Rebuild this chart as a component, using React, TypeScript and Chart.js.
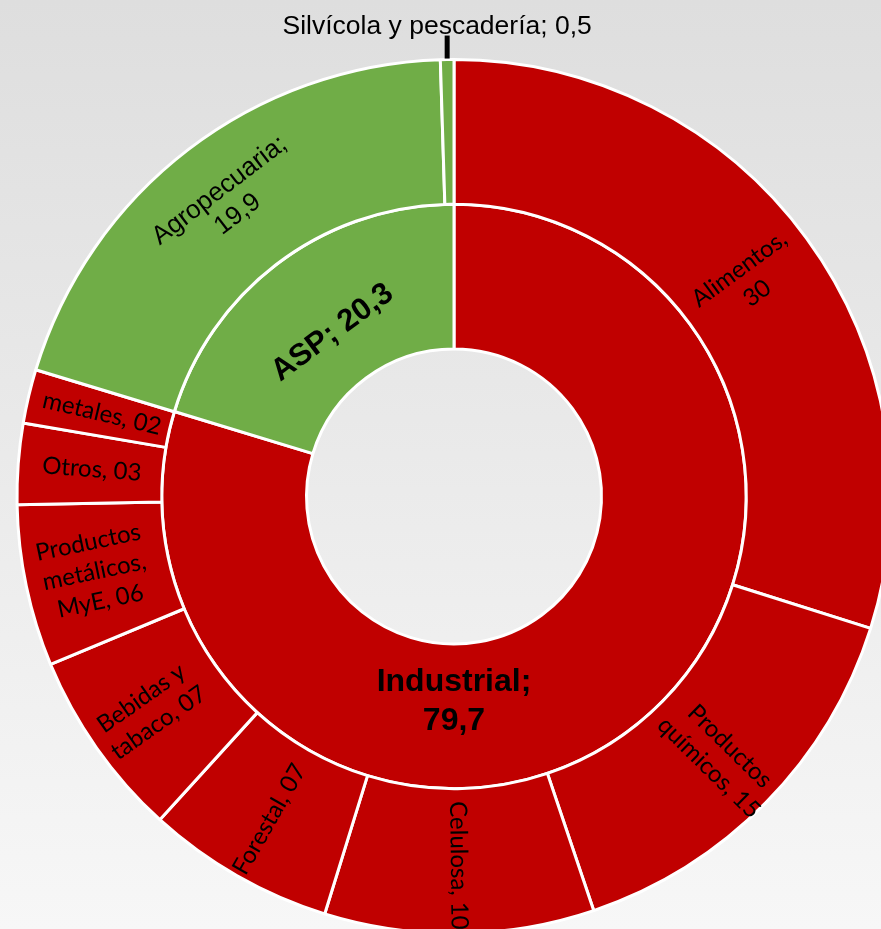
import React, { useEffect, useRef } from "react";
import { Chart, registerables } from "chart.js";

Chart.register(...registerables);

const outerLabels = [
  "Alimentos,\n30",
  "Productos\nquímicos, 15",
  "Celulosa, 10",
  "Forestal, 07",
  "Bebidas y\ntabaco, 07",
  "Productos\nmetálicos,\nMyE, 06",
  "Otros, 03",
  "metales, 02",
  "Agropecuaria;\n19,9",
  "Silvícola y pescadería; 0,5",
];
const outerValues = [30, 15, 10, 7, 7, 6, 3, 2, 19.9, 0.5];
const outerGroup = ["I", "I", "I", "I", "I", "I", "I", "I", "A", "A"];

const innerLabels = ["Industrial;\n79,7", "ASP; 20,3"];
const innerValues = [79.7, 20.3];
const innerGroup = ["I", "A"];

const RED = "#C00000";
const GREEN = "#70AD47";
const colorOf = (g: string) => (g === "I" ? RED : GREEN);

type LabelStyle = {
  font: string;
  lh: number;
  orient: "radial" | "tangent" | "horizontal";
  pos?: number; // fraction across ring thickness
  angleDeg?: number; // override angle (deg clockwise from 12 o'clock)
  callout?: boolean;
};

const CAL = "Lato, 'Open Sans', sans-serif";
const ARIAL = "'Liberation Sans', Arial, sans-serif";

const outerStyles: LabelStyle[] = [
  { font: `24px ${CAL}`, lh: 30, orient: "radial", pos: 0.5 },
  { font: `24px ${CAL}`, lh: 30, orient: "radial", pos: 0.55 },
  { font: `24px ${CAL}`, lh: 30, orient: "radial", pos: 0.53 },
  { font: `24px ${CAL}`, lh: 30, orient: "radial", pos: 0.55 },
  { font: `24px ${CAL}`, lh: 30, orient: "radial", pos: 0.55 },
  { font: `24px ${CAL}`, lh: 30, orient: "radial", pos: 0.52 },
  { font: `24px ${CAL}`, lh: 30, orient: "radial", pos: 0.49 },
  { font: `24px ${CAL}`, lh: 30, orient: "radial", pos: 0.48 },
  { font: `26px ${ARIAL}`, lh: 30, orient: "tangent", pos: 0.54 },
  { font: `26.5px ${ARIAL}`, lh: 30, orient: "horizontal", callout: true },
];
const innerStyles: LabelStyle[] = [
  { font: `bold 32px ${ARIAL}`, lh: 39, orient: "horizontal", pos: 0.4, angleDeg: 180 },
  { font: `bold 31px ${ARIAL}`, lh: 36, orient: "tangent", pos: 0.39 },
];

const labelPlugin = {
  id: "sunLabels",
  afterDatasetsDraw(chart: any) {
    const ctx: CanvasRenderingContext2D = chart.ctx;
    const sets = [
      { labels: outerLabels, styles: outerStyles },
      { labels: innerLabels, styles: innerStyles },
    ];
    sets.forEach((s, d) => {
      const meta = chart.getDatasetMeta(d);
      meta.data.forEach((arc: any, i: number) => {
        const st = s.styles[i];
        const p = arc.getProps(
          ["x", "y", "startAngle", "endAngle", "innerRadius", "outerRadius"],
          true
        );
        let a = (p.startAngle + p.endAngle) / 2;
        if (st.angleDeg !== undefined) a = ((st.angleDeg - 90) * Math.PI) / 180;
        ctx.save();
        ctx.fillStyle = "#000";
        ctx.font = st.font;
        if (st.callout) {
          const lx = p.x + p.outerRadius * Math.cos(a);
          const ly = p.y + p.outerRadius * Math.sin(a);
          ctx.strokeStyle = "#000";
          ctx.lineWidth = 5;
          ctx.beginPath();
          ctx.moveTo(lx, ly - 1);
          ctx.lineTo(lx, ly - 24);
          ctx.stroke();
          ctx.textAlign = "center";
          ctx.textBaseline = "alphabetic";
          ctx.fillText(s.labels[i], lx - 10, ly - 26);
          ctx.restore();
          return;
        }
        const r = p.innerRadius + (p.outerRadius - p.innerRadius) * (st.pos ?? 0.5);
        const px = p.x + r * Math.cos(a);
        const py = p.y + r * Math.sin(a);
        let rot = 0;
        if (st.orient === "radial") rot = a;
        else if (st.orient === "tangent") rot = a + Math.PI / 2;
        if (Math.cos(rot) < -1e-6) rot += Math.PI;
        ctx.translate(px, py);
        ctx.rotate(rot);
        ctx.textAlign = "center";
        ctx.textBaseline = "middle";
        const lines = s.labels[i].split("\n");
        lines.forEach((ln, k) => {
          ctx.fillText(ln, 0, (k - (lines.length - 1) / 2) * st.lh);
        });
        ctx.restore();
      });
    });
  },
};

export default function App() {
  const ref = useRef<HTMLCanvasElement>(null);
  useEffect(() => {
    if (!ref.current) return;
    const chart = new Chart(ref.current, {
      type: "doughnut",
      data: {
        labels: outerLabels,
        datasets: [
          {
            data: outerValues,
            backgroundColor: outerGroup.map(colorOf),
            borderColor: "#ffffff",
            borderWidth: 3,
            hoverOffset: 0,
          },
          {
            data: innerValues,
            backgroundColor: innerGroup.map(colorOf),
            borderColor: "#ffffff",
            borderWidth: 3,
            hoverOffset: 0,
          },
        ],
      },
      options: {
        animation: false,
        responsive: false,
        events: [],
        cutout: "33.75%",
        layout: { padding: { left: 15.5, right: 15.5, top: 58, bottom: 58 } },
        plugins: {
          legend: { display: false },
          tooltip: { enabled: false },
        },
      },
      plugins: [labelPlugin],
    });
    return () => chart.destroy();
  }, []);

  return (
    <div
      style={{
        position: "fixed",
        left: 0,
        top: 0,
        width: 881,
        height: 929,
        overflow: "hidden",
        background: "linear-gradient(180deg, #dedede 0%, #e9e9e9 45%, #f7f7f7 100%)",
      }}
    >
      <canvas
        ref={ref}
        width={908}
        height={993}
        style={{ position: "absolute", left: 0, top: 0, width: 908, height: 993 }}
      />
    </div>
  );
}
